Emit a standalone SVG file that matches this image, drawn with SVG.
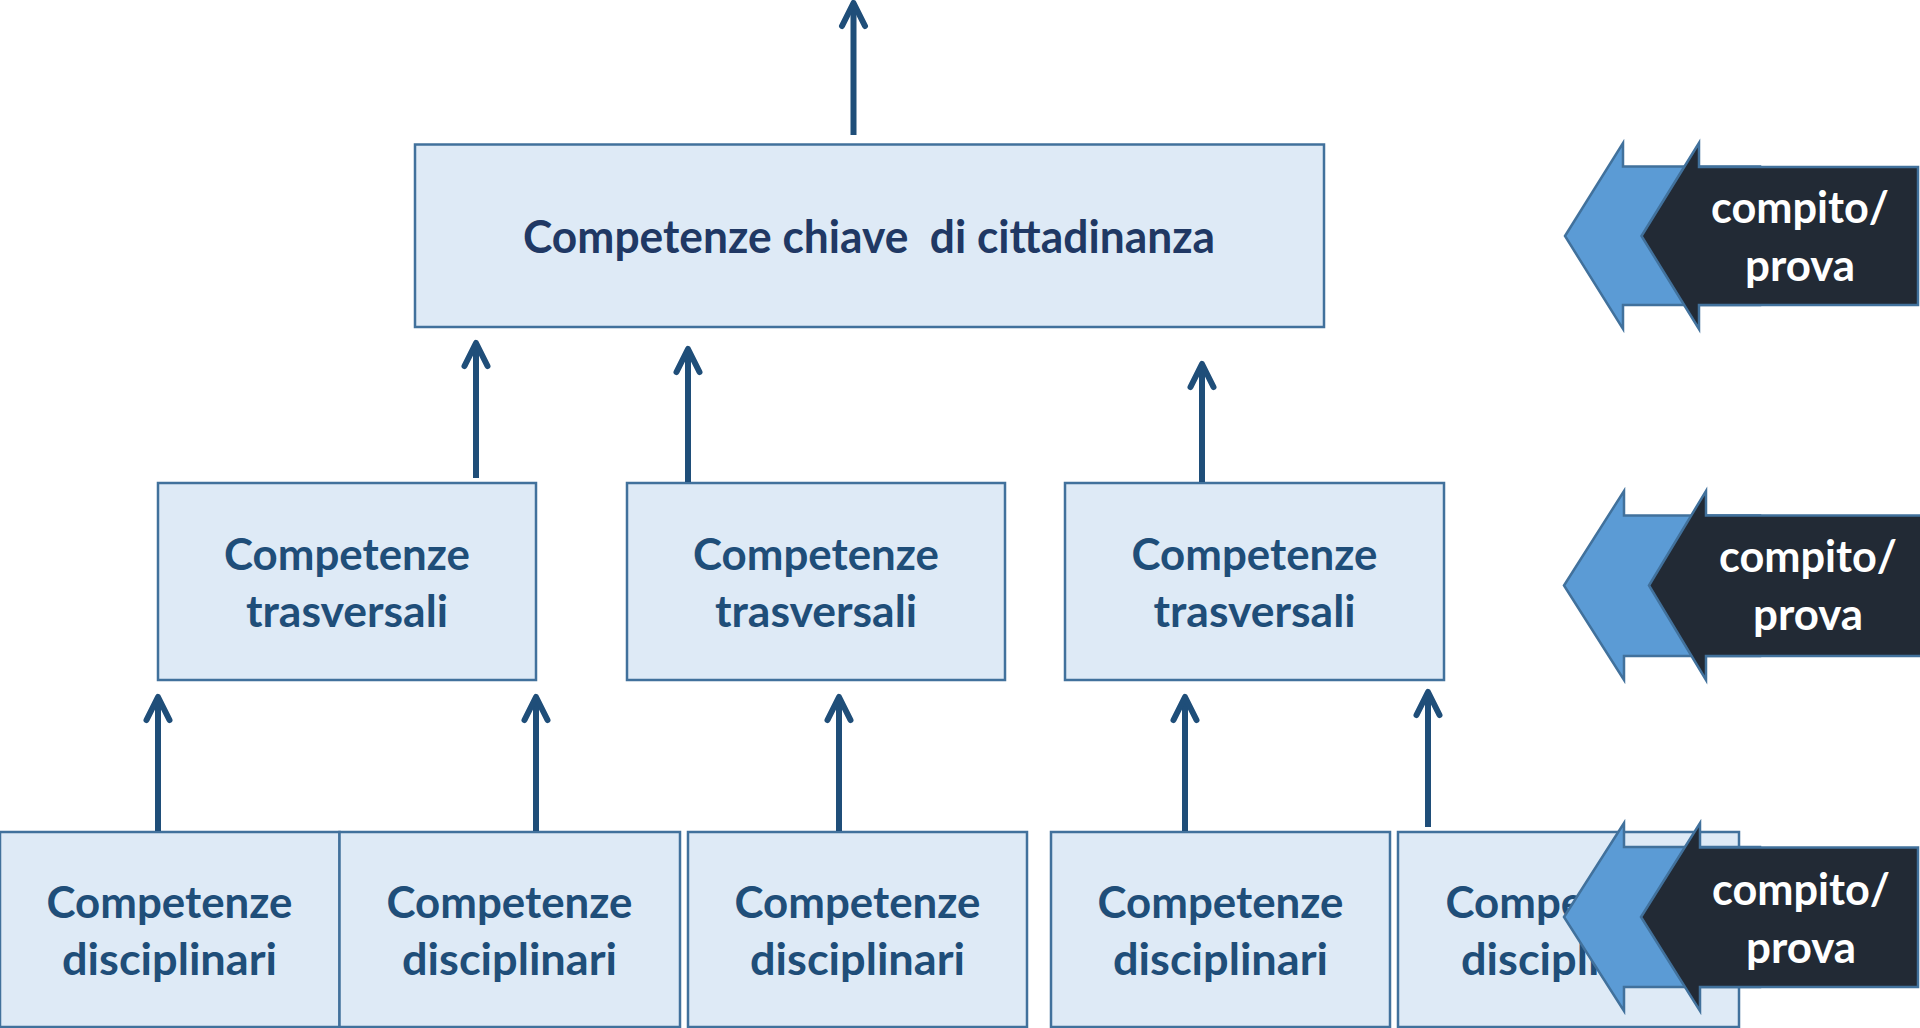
<svg xmlns="http://www.w3.org/2000/svg" width="1920" height="1028" viewBox="0 0 1920 1028">
<defs>
<style>
.box{fill:#DEEAF6;stroke:#41719C;stroke-width:2.5}
.t{font-family:Lato,"Open Sans","Liberation Sans",sans-serif;font-weight:700;font-size:44px;text-anchor:middle;fill:#1F4E79}
.tt{fill:#203864;font-size:45px}
.w{fill:#FFFFFF}
.con{stroke:#1F4E79;stroke-width:6;fill:none;marker-end:url(#ah)}
.lb{fill:#5B9BD5;stroke:#41719C;stroke-width:2.5;stroke-linejoin:miter}
.dk{fill:#222A35;stroke:#41719C;stroke-width:2.5;stroke-linejoin:miter}
</style>
<marker id="ah" markerUnits="userSpaceOnUse" markerWidth="40" markerHeight="40" viewBox="-30 -20 40 40" refX="0" refY="0" orient="auto">
<path d="M-23,-11.5 L0,0 L-23,11.5" fill="none" stroke="#1F4E79" stroke-width="6" stroke-linecap="round" stroke-linejoin="round"/>
</marker>
</defs>
<rect width="1920" height="1028" fill="#FFFFFF"/>

<g id="top">
<rect class="box" x="415" y="144.5" width="909" height="182.5"/>
<text class="t tt" x="869" y="253" textLength="692" lengthAdjust="spacingAndGlyphs" xml:space="preserve">Competenze chiave  di cittadinanza</text>
</g>

<g id="tras1">
<rect class="box" x="158" y="483" width="378" height="197"/>
<text class="t" x="347" y="570" textLength="246" lengthAdjust="spacingAndGlyphs">Competenze</text>
<text class="t" x="347" y="627" textLength="202" lengthAdjust="spacingAndGlyphs">trasversali</text>
</g>
<g id="tras2">
<rect class="box" x="627" y="483" width="378" height="197"/>
<text class="t" x="816" y="570" textLength="246" lengthAdjust="spacingAndGlyphs">Competenze</text>
<text class="t" x="816" y="627" textLength="202" lengthAdjust="spacingAndGlyphs">trasversali</text>
</g>
<g id="tras3">
<rect class="box" x="1065" y="483" width="379" height="197"/>
<text class="t" x="1254.5" y="570" textLength="246" lengthAdjust="spacingAndGlyphs">Competenze</text>
<text class="t" x="1254.5" y="627" textLength="202" lengthAdjust="spacingAndGlyphs">trasversali</text>
</g>

<g id="disc1">
<rect class="box" x="0" y="832" width="339.5" height="195"/>
<text class="t" x="169.5" y="918" textLength="246" lengthAdjust="spacingAndGlyphs">Competenze</text>
<text class="t" x="169.5" y="975" textLength="215" lengthAdjust="spacingAndGlyphs">disciplinari</text>
</g>
<g id="disc2">
<rect class="box" x="339.5" y="832" width="340.5" height="195"/>
<text class="t" x="509.5" y="918" textLength="246" lengthAdjust="spacingAndGlyphs">Competenze</text>
<text class="t" x="509.5" y="975" textLength="215" lengthAdjust="spacingAndGlyphs">disciplinari</text>
</g>
<g id="disc3">
<rect class="box" x="688" y="832" width="339" height="195"/>
<text class="t" x="857.5" y="918" textLength="246" lengthAdjust="spacingAndGlyphs">Competenze</text>
<text class="t" x="857.5" y="975" textLength="215" lengthAdjust="spacingAndGlyphs">disciplinari</text>
</g>
<g id="disc4">
<rect class="box" x="1051" y="832" width="339" height="195"/>
<text class="t" x="1220.5" y="918" textLength="246" lengthAdjust="spacingAndGlyphs">Competenze</text>
<text class="t" x="1220.5" y="975" textLength="215" lengthAdjust="spacingAndGlyphs">disciplinari</text>
</g>
<g id="disc5">
<rect class="box" x="1398" y="832" width="341" height="195"/>
<text class="t" x="1568.5" y="918" textLength="246" lengthAdjust="spacingAndGlyphs">Competenze</text>
<text class="t" x="1568.5" y="975" textLength="215" lengthAdjust="spacingAndGlyphs">disciplinari</text>
</g>

<g id="connectors">
<line class="con" x1="853.5" y1="135" x2="853.5" y2="3"/>
<line class="con" x1="476" y1="478" x2="476" y2="343"/>
<line class="con" x1="688" y1="482" x2="688" y2="349"/>
<line class="con" x1="1202" y1="482" x2="1202" y2="364"/>
<line class="con" x1="158" y1="831" x2="158" y2="697"/>
<line class="con" x1="536" y1="831" x2="536" y2="697"/>
<line class="con" x1="839" y1="831" x2="839" y2="697"/>
<line class="con" x1="1185" y1="831" x2="1185" y2="697"/>
<line class="con" x1="1428" y1="827" x2="1428" y2="692"/>
</g>

<g id="prova1">
<path class="lb" d="M1565,236 L1623,143 L1623,166.5 L1760,166.5 L1760,305 L1623,305 L1623,329 Z"/>
<path class="dk" d="M1641.5,236 L1699,143 L1699,167 L1918,167 L1918,305 L1699,305 L1699,329 Z"/>
<text class="t w" x="1800" y="223" textLength="178" lengthAdjust="spacingAndGlyphs">compito/</text>
<text class="t w" x="1800" y="281" textLength="110" lengthAdjust="spacingAndGlyphs">prova</text>
</g>
<g id="prova2">
<path class="lb" d="M1564,585.5 L1624,491 L1624,515.5 L1760,515.5 L1760,656 L1624,656 L1624,680 Z"/>
<path class="dk" d="M1649,585.5 L1706,491 L1706,515.5 L1923,515.5 L1923,656 L1706,656 L1706,680 Z"/>
<text class="t w" x="1808" y="572" textLength="178" lengthAdjust="spacingAndGlyphs">compito/</text>
<text class="t w" x="1808" y="630" textLength="110" lengthAdjust="spacingAndGlyphs">prova</text>
</g>
<g id="prova3">
<path class="lb" d="M1564,917 L1624,823 L1624,847 L1760,847 L1760,987 L1624,987 L1624,1011 Z"/>
<path class="dk" d="M1641,917 L1700,823 L1700,847.5 L1918,847.5 L1918,987 L1700,987 L1700,1011 Z"/>
<text class="t w" x="1801" y="905" textLength="178" lengthAdjust="spacingAndGlyphs">compito/</text>
<text class="t w" x="1801" y="963" textLength="110" lengthAdjust="spacingAndGlyphs">prova</text>
</g>
</svg>
